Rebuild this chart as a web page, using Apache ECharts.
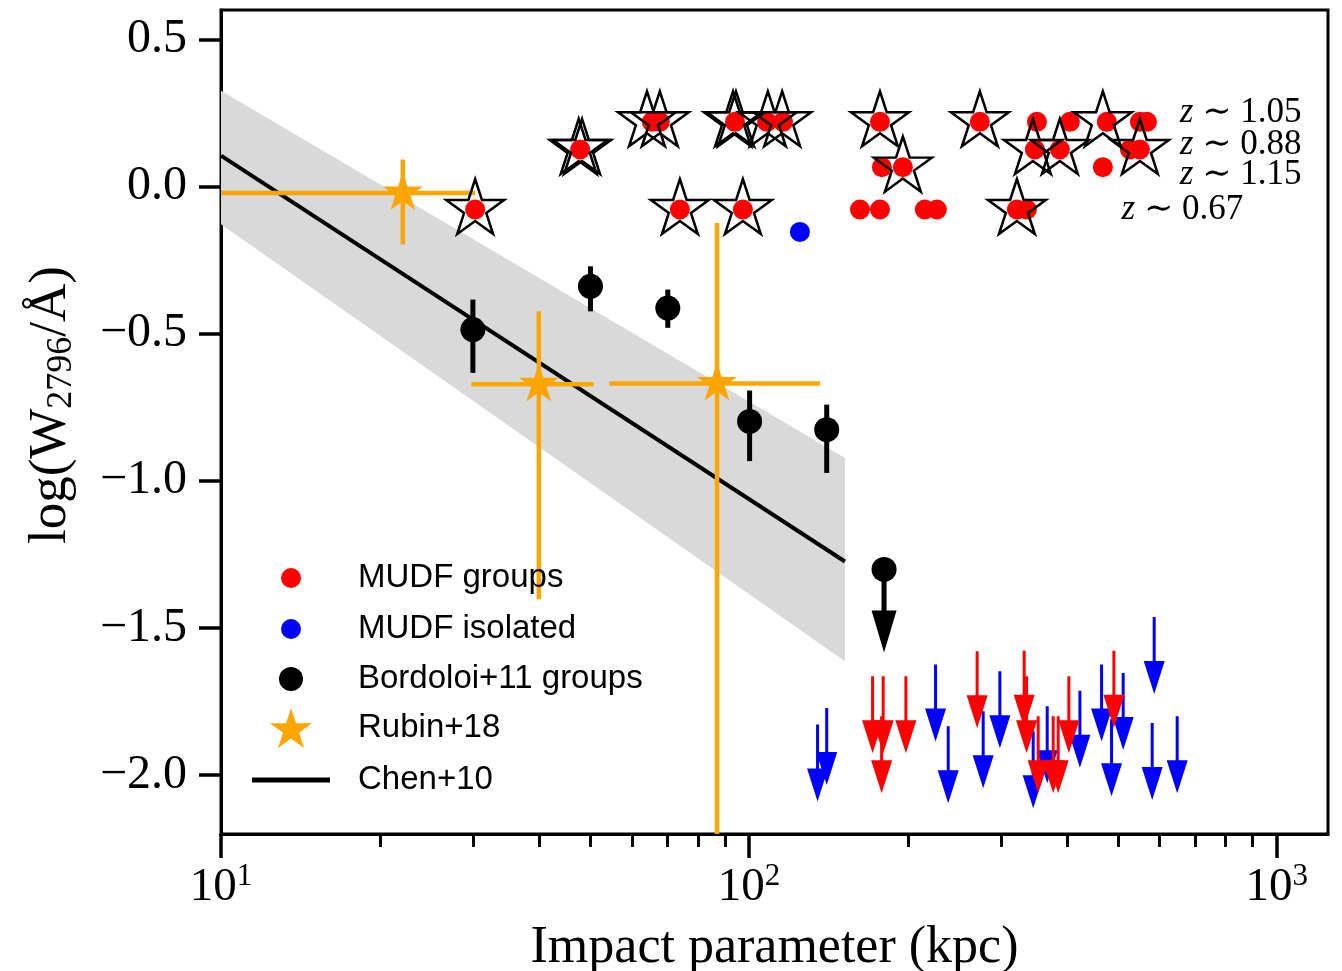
<!DOCTYPE html>
<html><head><meta charset="utf-8">
<script src="https://cdn.jsdelivr.net/npm/echarts@6/dist/echarts.min.js"></script>
<style>html,body{margin:0;padding:0;background:#fff}#c{width:1342px;height:971px}</style>
</head><body><div id="c"></div>
<script>
// ---------------- data ----------------
const xTickValues = [10, 100, 1000];
const xMinorTickValues = [20, 30, 40, 50, 60, 70, 80, 90, 200, 300, 400, 500, 600, 700, 800, 900];
const yTickValues = [-2.0, -1.5, -1.0, -0.5, 0.0, 0.5];

// MUDF groups: detections (red dots)
const mudfGroupsKpc  = [65.5, 67.8, 94.1, 108.2, 116.0, 177.1, 273.8, 351.2, 405.5, 476.4, 550.3, 567.4,
                        47.9, 348.1, 388.1, 526.8, 550.3,
                        178.6, 195.7, 468.2,
                        30.3, 74.0, 97.4, 162.3, 177.1, 215.4, 227.0, 321.8, 336.1];
const mudfGroupsLogW = [0.220, 0.220, 0.220, 0.220, 0.220, 0.220, 0.220, 0.220, 0.220, 0.220, 0.220, 0.220,
                        0.126, 0.126, 0.126, 0.126, 0.126,
                        0.066, 0.066, 0.066,
                        -0.078, -0.078, -0.078, -0.078, -0.078, -0.078, -0.078, -0.078, -0.078];
// open black stars over some group galaxies
const starKpc  = [64.1, 67.8, 93.3, 94.5, 108.6, 115.6, 177.1, 273.8, 468.2,
                  47.6, 48.3, 345.1, 388.1, 550.3,
                  195.7,
                  30.3, 74.0, 97.4, 321.8];
const starLogW = [0.220, 0.220, 0.220, 0.220, 0.220, 0.220, 0.220, 0.220, 0.220,
                  0.126, 0.126, 0.126, 0.126, 0.126,
                  0.066,
                  -0.078, -0.078, -0.078, -0.078];
// MUDF isolated detection (blue dot)
const mudfIsolatedKpc  = [124.9];
const mudfIsolatedLogW = [-0.154];
// MUDF groups upper limits (red arrows)
const groupLimKpc  = [171.5, 179.6, 178.4, 198.3, 270.6, 332.2, 335.7, 353.1, 377.0, 385.3, 403.7, 491.3];
const groupLimLogW = [-1.664, -1.664, -1.800, -1.664, -1.579, -1.577, -1.664, -1.800, -1.800, -1.800, -1.664, -1.577];
// MUDF isolated upper limits (blue arrows)
const isoLimKpc  = [134.9, 140.4, 225.7, 238.5, 277.8, 298.8, 345.5, 367.3, 423.6, 465.6, 486.3, 511.6, 585.7, 580.6, 647.5];
const isoLimLogW = [-1.828, -1.772, -1.624, -1.834, -1.783, -1.647, -1.851, -1.766, -1.713, -1.624, -1.810, -1.653, -1.463, -1.823, -1.800];
// Bordoloi+11 groups
const bordoloiKpc   = [30.0, 50.1, 70.2, 100.3, 140.4];
const bordoloiLogW  = [-0.486, -0.339, -0.413, -0.798, -0.826];
const bordoloiLogWLo = [-0.633, -0.424, -0.480, -0.933, -0.973];
const bordoloiLogWHi = [-0.384, -0.271, -0.350, -0.693, -0.741];
const bordoloiLimKpc  = [180.3];
const bordoloiLimLogW = [-1.301];
// Rubin+18
const rubinKpc    = [22.1, 40.0, 87.0];
const rubinLogW   = [-0.022, -0.672, -0.669];
const rubinKpcLo  = [8.0, 29.8, 54.4];
const rubinKpcHi  = [30.3, 50.8, 136.3];
const rubinLogWLo = [-0.197, -1.402, -2.6];
const rubinLogWHi = [0.092, -0.424, -0.124];
// Chen+10 relation and its band
const chenKpc   = [10, 152];
const chenLogW  = [0.105, -1.274];
const chenUpper = [0.326, -0.922];
const chenLower = [-0.128, -1.613];
// group redshift annotations
const zLabelKpc  = [655, 655, 655, 508];
const zLabelLogW = [0.250, 0.143, 0.041, -0.078];
const zLabelText = ['1.05', '0.88', '1.15', '0.67'];

// ---------------- chart ----------------
const SERIF = '"Liberation Serif", "DejaVu Serif", serif';
const SANS = '"Liberation Sans", "DejaVu Sans", sans-serif';
const STAR = 'path://M50,0L61.2,34.5L97.6,34.5L68.2,55.9L79.4,90.5L50,69.1L20.6,90.5L31.8,55.9L2.4,34.5L38.8,34.5Z';
const ARROW = 'path://M9,0L12,0L12,44L21,44L10.5,77L0,44L9,44Z';
const BIG_ARROW = 'path://M10,0L15,0L15,41L25,41L12.5,83L0,41L10,41Z';
const LINE_ICON = 'path://M0,0H78V5H0Z';

const pairs = (xs, ys) => xs.map((x, i) => [x, ys[i]]);

function bandRender(params, api) {
  if (params.dataIndexInside !== 0) return null;
  const n = chenKpc.length;
  const pts = [];
  for (let i = 0; i < n; i++) pts.push(api.coord([api.value(0, i), api.value(1, i)]));
  for (let i = n - 1; i >= 0; i--) pts.push(api.coord([api.value(0, i), api.value(2, i)]));
  return { type: 'polygon', shape: { points: pts }, style: { fill: '#d9d9d9' } };
}
function vErrRender(params, api) {
  const x = api.value(0), lo = api.value(2), hi = api.value(3);
  const a = api.coord([x, lo]), b = api.coord([x, hi]);
  return { type: 'line', shape: { x1: a[0], y1: a[1], x2: b[0], y2: b[1] }, style: { stroke: '#000', lineWidth: 5 } };
}
function xyErrRender(params, api) {
  const x = api.value(0), y = api.value(1);
  const h1 = api.coord([api.value(2), y]), h2 = api.coord([api.value(3), y]);
  const v1 = api.coord([x, api.value(4)]), v2 = api.coord([x, api.value(5)]);
  return { type: 'group', children: [
    { type: 'line', shape: { x1: h1[0], y1: h1[1], x2: h2[0], y2: h2[1] }, style: { stroke: '#FFA500', lineWidth: 4.5 } },
    { type: 'line', shape: { x1: v1[0], y1: v1[1], x2: v2[0], y2: v2[1] }, style: { stroke: '#FFA500', lineWidth: 4.5 } }
  ] };
}
function zLabelRender(params, api) {
  const p = api.coord([api.value(0), api.value(1)]);
  const txt = zLabelText[params.dataIndex];
  return { type: 'text', x: p[0], y: p[1], style: {
    text: '{i|z} \u223C ' + txt, align: 'left', verticalAlign: 'middle',
    fill: '#000', fontFamily: SERIF, fontSize: 35,
    rich: { i: { fontFamily: SERIF, fontSize: 35, fontStyle: 'italic', fill: '#000' } }
  } };
}

const legendCommon = {
  orient: 'vertical', padding: 0, itemGap: 0, selectedMode: false, itemWidth: 124,
  textStyle: { fontFamily: SANS, fontSize: 33, color: '#000', lineHeight: 40 }
};

const option = {
  animation: false,
  backgroundColor: '#fff',
  grid: { left: 221, right: 14, top: 10, bottom: 137, show: true, borderColor: '#000', borderWidth: 3,
          backgroundColor: 'transparent', containLabel: false, outerBoundsMode: 'none' },
  legend: [
    Object.assign({}, legendCommon, { left: 281, top: 558, itemHeight: 20, data: [{ name: 'MUDF groups', icon: 'circle' }] }),
    Object.assign({}, legendCommon, { left: 281, top: 609, itemHeight: 20, data: [{ name: 'MUDF isolated', icon: 'circle' }] }),
    Object.assign({}, legendCommon, { left: 279, top: 659, itemHeight: 24, data: [{ name: 'Bordoloi+11 groups', icon: 'circle' }] }),
    Object.assign({}, legendCommon, { left: 270, top: 708, itemHeight: 40, data: [{ name: 'Rubin+18', icon: STAR }] }),
    Object.assign({}, legendCommon, { left: 252, top: 760, itemHeight: 5, data: [{ name: 'Chen+10', icon: LINE_ICON }] })
  ],
  xAxis: [
    {
      type: 'log', logBase: 10, min: 10, max: 1250, position: 'bottom',
      axisLine: { show: true, onZero: false, lineStyle: { color: '#000', width: 3 } },
      axisTick: { show: true, inside: false, length: 24, customValues: xTickValues, lineStyle: { color: '#000', width: 3.5 } },
      axisLabel: {
        show: true, customValues: xTickValues, margin: 27, color: '#000',
        formatter: v => '{b|10}{s|' + Math.round(Math.log10(v)) + '}',
        rich: {
          b: { fontFamily: SERIF, fontSize: 47, lineHeight: 54, color: '#000' },
          s: { fontFamily: SERIF, fontSize: 31, lineHeight: 22, verticalAlign: 'top', color: '#000' }
        }
      },
      splitLine: { show: false },
      name: 'Impact parameter (kpc)', nameLocation: 'middle', nameGap: 88,
      nameTextStyle: { fontFamily: SERIF, fontSize: 52, color: '#000' }
    },
    {
      type: 'log', logBase: 10, min: 10, max: 1250, position: 'bottom',
      axisLine: { show: false, onZero: false },
      axisTick: { show: true, inside: false, length: 13, customValues: xMinorTickValues, lineStyle: { color: '#000', width: 3 } },
      axisLabel: { show: false },
      splitLine: { show: false }
    }
  ],
  yAxis: {
    type: 'value', min: -2.2, max: 0.6,
    axisLine: { show: true, onZero: false, lineStyle: { color: '#000', width: 3 } },
    axisTick: { show: true, inside: false, length: 22, customValues: yTickValues, lineStyle: { color: '#000', width: 3.5 } },
    axisLabel: {
      show: true, customValues: yTickValues, margin: 34, color: '#000', fontFamily: SERIF, fontSize: 48,
      formatter: v => (v < 0 ? '\u2212' : '') + Math.abs(v).toFixed(1)
    },
    splitLine: { show: false },
    name: '{b|log(W}{s|2796}{b|/\u00C5)}', nameLocation: 'middle', nameGap: 141, nameRotate: 90,
    nameTextStyle: {
      color: '#000', padding: [0, 0, 0, 34],
      rich: {
        b: { fontFamily: SERIF, fontSize: 53, lineHeight: 58, color: '#000' },
        s: { fontFamily: SERIF, fontSize: 36, lineHeight: 30, verticalAlign: 'bottom', color: '#000' }
      }
    }
  },
  series: [
    { type: 'custom', name: 'Chen+10 band', z: 1, silent: true, clip: true,
      data: chenKpc.map((x, i) => [x, chenUpper[i], chenLower[i]]),
      encode: { x: 0, y: [1, 2] }, renderItem: bandRender },
    { type: 'line', name: 'Chen+10', z: 2, silent: true, symbol: 'none',
      data: pairs(chenKpc, chenLogW),
      lineStyle: { color: '#000', width: 4 }, itemStyle: { color: '#000' } },
    { type: 'custom', name: 'Rubin+18 errors', z: 3, silent: true, clip: true,
      data: rubinKpc.map((x, i) => [x, rubinLogW[i], rubinKpcLo[i], rubinKpcHi[i], rubinLogWLo[i], rubinLogWHi[i]]),
      encode: { x: 0, y: 1 }, renderItem: xyErrRender },
    { type: 'scatter', name: 'Rubin+18', z: 3, silent: true, symbol: STAR, symbolSize: [40, 38], symbolOffset: [0, -2],
      data: pairs(rubinKpc, rubinLogW), itemStyle: { color: '#FFA500', opacity: 1 } },
    { type: 'custom', name: 'Bordoloi+11 errors', z: 4, silent: true, clip: true,
      data: bordoloiKpc.map((x, i) => [x, bordoloiLogW[i], bordoloiLogWLo[i], bordoloiLogWHi[i]]),
      encode: { x: 0, y: 1 }, renderItem: vErrRender },
    { type: 'scatter', name: 'Bordoloi+11 groups', z: 4, silent: true, symbol: 'circle', symbolSize: 25,
      data: pairs(bordoloiKpc, bordoloiLogW).concat(pairs(bordoloiLimKpc, bordoloiLimLogW)),
      itemStyle: { color: '#000', opacity: 1 } },
    { type: 'scatter', name: 'Bordoloi+11 limits', z: 4, silent: true, symbol: BIG_ARROW, symbolSize: [25, 83], symbolOffset: [0, 41.5],
      data: pairs(bordoloiLimKpc, bordoloiLimLogW), itemStyle: { color: '#000', opacity: 1 } },
    { type: 'scatter', name: 'MUDF isolated limits', z: 5, silent: true, symbol: ARROW, symbolSize: [21, 77], symbolOffset: [0, 38.5],
      data: pairs(isoLimKpc, isoLimLogW), itemStyle: { color: '#0000FF', opacity: 1 } },
    { type: 'scatter', name: 'MUDF groups limits', z: 5, silent: true, symbol: ARROW, symbolSize: [21, 77], symbolOffset: [0, 38.5],
      data: pairs(groupLimKpc, groupLimLogW), itemStyle: { color: '#FF0000', opacity: 1 } },
    { type: 'scatter', name: 'MUDF isolated', z: 5, silent: true, symbol: 'circle', symbolSize: 20,
      data: pairs(mudfIsolatedKpc, mudfIsolatedLogW), itemStyle: { color: '#0000FF', opacity: 1 } },
    { type: 'scatter', name: 'MUDF groups', z: 5, silent: true, symbol: 'circle', symbolSize: 20,
      data: pairs(mudfGroupsKpc, mudfGroupsLogW), itemStyle: { color: '#FF0000', opacity: 1 } },
    { type: 'scatter', name: 'MUDF group stars', z: 6, silent: true, symbol: STAR, symbolSize: [58, 55], symbolOffset: [0, -3],
      data: pairs(starKpc, starLogW),
      itemStyle: { color: 'rgba(0,0,0,0)', borderColor: '#000', borderWidth: 2.5, opacity: 1 } },
    { type: 'custom', name: 'group redshifts', z: 6, silent: true,
      data: pairs(zLabelKpc, zLabelLogW), encode: { x: 0, y: 1 }, renderItem: zLabelRender }
  ]
};

const chart = echarts.init(document.getElementById('c'), null, { renderer: 'canvas' });
chart.setOption(option);
</script></body></html>
